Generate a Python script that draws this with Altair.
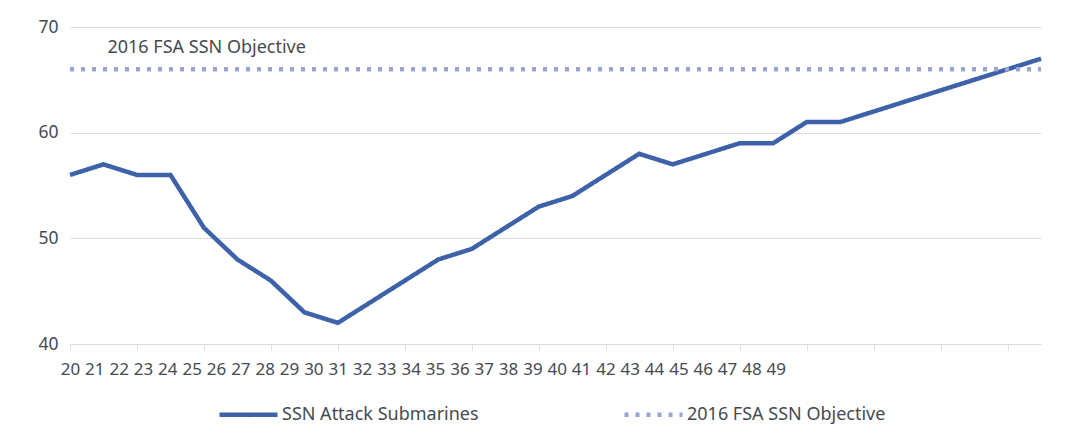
import altair as alt
import pandas as pd

years = ["20", "21", "22", "23", "24", "25", "26", "27", "28", "29",
         "30", "31", "32", "33", "34", "35", "36", "37", "38", "39",
         "40", "41", "42", "43", "44", "45", "46", "47", "48", "49"]
ssn = [56, 57, 56, 56, 51, 48, 46, 43, 42, 44,
       46, 48, 49, 51, 53, 54, 56, 58, 57, 58,
       59, 59, 61, 61, 62, 63, 64, 65, 66, 67]
objective = [66] * 30
series_names = ["SSN Attack Submarines", "2016 FSA SSN Objective"]
series_colors = ["#3d62a9", "#9ba5d1"]
annotation = "2016 FSA SSN Objective"

FONT = "Noto Sans"
TXT = "#454a52"
GRID = "#dcdcdc"

idx = list(range(len(years)))
df_ssn = pd.DataFrame({"idx": idx, "value": ssn, "series": series_names[0]})
df_obj = pd.DataFrame({"idx": idx, "value": objective, "series": series_names[1]})
df_lab = pd.DataFrame({"idx": idx, "label": years})
df_ann = pd.DataFrame({"idx": [1], "value": [68], "text": [annotation]})

xs = alt.X("idx:Q", scale=alt.Scale(domain=[0, len(years) - 1], nice=False, zero=False),
           axis=alt.Axis(values=idx, labels=False, title=None, grid=False,
                         domainColor=GRID, tickColor=GRID, tickSize=6, domainWidth=1))
ys = alt.Y("value:Q", scale=alt.Scale(domain=[40, 70], nice=False, zero=False),
           axis=alt.Axis(values=[40, 50, 60, 70], title=None, domain=False, ticks=False,
                         labelPadding=12, labelFontSize=17.5, labelColor=TXT, labelFont=FONT,
                         gridColor=GRID))
color = alt.Color("series:N", scale=alt.Scale(domain=series_names, range=series_colors),
                  legend=alt.Legend(title=None, orient="none", direction="horizontal",
                                    legendX=147, legendY=356, symbolType="stroke",
                                    symbolSize=3364, symbolStrokeWidth=4.5,
                                    labelFontSize=18, labelFont=FONT, labelColor=TXT,
                                    labelLimit=0, columnPadding=136, labelOffset=2,
                                    padding=0))
dash = alt.StrokeDash("series:N", scale=alt.Scale(domain=series_names, range=[[1, 0], [4, 7]]),
                      legend=None)

line = alt.Chart(df_ssn).mark_line(strokeWidth=4.5, strokeJoin="miter").encode(
    x=xs, y=ys, color=color, strokeDash=dash)
dotted = alt.Chart(df_obj).mark_line(strokeWidth=4.5).encode(
    x=xs, y=ys, color=color, strokeDash=dash)
ann = alt.Chart(df_ann).mark_text(align="left", dx=4, fontSize=18, font=FONT, color=TXT).encode(
    x=alt.X("idx:Q"), y=alt.Y("value:Q"), text="text:N")

main = alt.layer(line, dotted, ann)

label_expr = "[" + ",".join("'" + y + "'" for y in years) + "][datum.value]"
labels = alt.Chart(df_lab).mark_point(opacity=0).encode(
    x=alt.X("idx:Q", scale=alt.Scale(domain=[0, 39.9], nice=False, zero=False),
            axis=alt.Axis(orient="bottom", values=idx, labelExpr=label_expr, domain=False,
                          ticks=False, grid=False, title=None, labelPadding=17,
                          labelOverlap=False, labelFlush=False, labelFontSize=17,
                          labelFont=FONT, labelColor=TXT))
)

chart = alt.layer(main, labels).resolve_scale(x="independent").properties(
    width=971, height=317,
    autosize=alt.AutoSizeParams(type="none"),
    padding={"left": 62, "top": 19, "right": 23, "bottom": 81},
).configure(font=FONT).configure_view(stroke=None)

chart.save("out.html", embed_options={"renderer": "svg", "actions": False})
